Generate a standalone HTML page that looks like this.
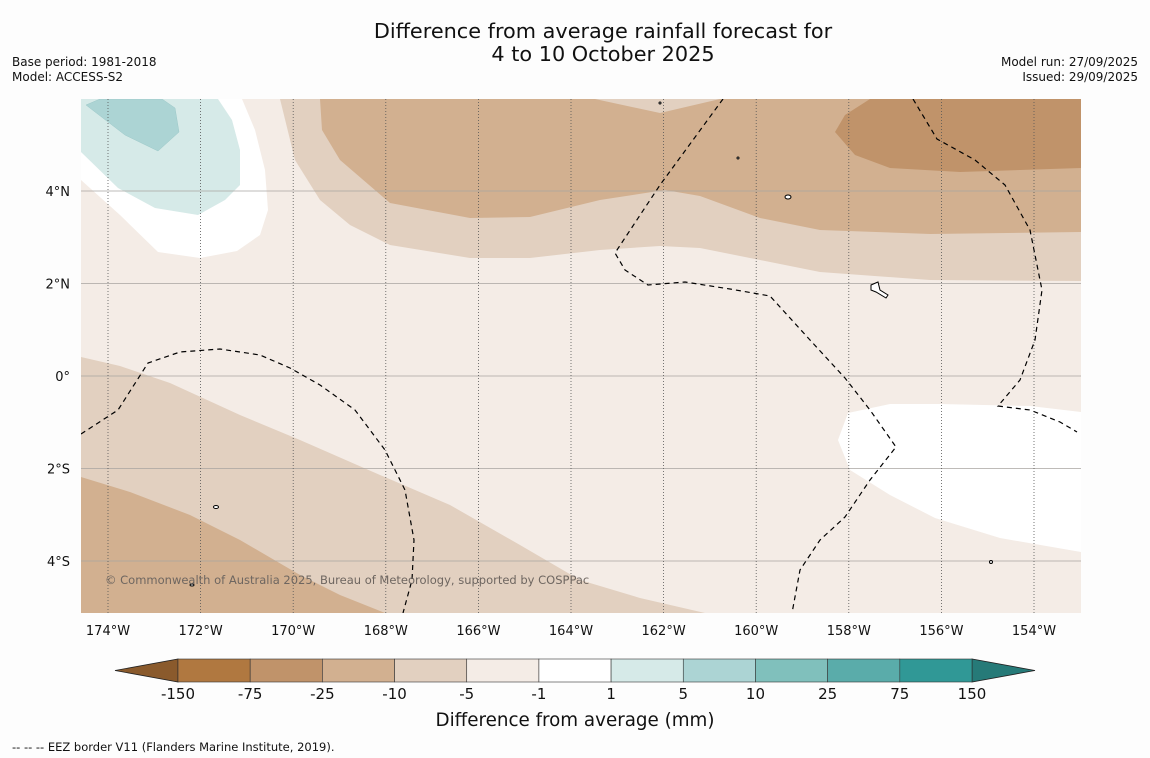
<!DOCTYPE html>
<html><head><meta charset="utf-8">
<style>
body{margin:0;background:#fff;}
svg{display:block;font-family:"DejaVu Sans","Liberation Sans",sans-serif;}
</style></head>
<body>
<svg id="chart" width="1150" height="758" viewBox="0 0 1150 758">
<rect width="1150" height="758" fill="#fdfdfd"/>
<text x="603" y="38" font-size="20.8" text-anchor="middle" fill="#111">Difference from average rainfall forecast for</text>
<text x="603" y="61" font-size="20.8" text-anchor="middle" fill="#111">4 to 10 October 2025</text>
<text x="12" y="66" font-size="12" fill="#111">Base period: 1981-2018</text>
<text x="12" y="81" font-size="12" fill="#111">Model: ACCESS-S2</text>
<text x="1138" y="66" font-size="12" fill="#111" text-anchor="end">Model run: 27/09/2025</text>
<text x="1138" y="81" font-size="12" fill="#111" text-anchor="end">Issued: 29/09/2025</text>

<defs><clipPath id="mapclip"><rect x="81" y="99" width="1000" height="514"/></clipPath></defs>
<g clip-path="url(#mapclip)">
<rect x="81" y="99" width="1000" height="514" fill="#f4ece6"/>
<path fill="#e2d0c0" d="M280,99 L295,160 L320,200 L350,225 L390,245 L470,258 L530,258 L600,250 L660,246 L700,248 L760,260 L820,272 L930,280 L1081,281 L1081,99 Z"/>
<path fill="#d2b090" d="M320,99 L595,99 L660,113 L720,99 L1081,99 L1081,232 L930,234 L820,230 L760,218 L700,196 L665,190 L600,200 L530,217 L470,218 L390,203 L340,160 L322,130 Z"/>
<path fill="#c0936a" d="M870,99 L845,115 L835,132 L855,155 L890,168 L960,172 L1020,170 L1081,168 L1081,99 Z"/>
<path fill="#ffffff" d="M81,150 L81,180 L120,215 L158,252 L200,258 L237,251 L260,235 L268,210 L265,170 L255,130 L242,99 L81,99 Z"/>
<path fill="#d6eae8" d="M81,99 L218,99 L232,120 L240,150 L240,185 L225,200 L198,215 L155,208 L118,188 L81,152 Z"/>
<path fill="#acd4d4" stroke="#9cc8c8" stroke-width="0.5" d="M86,105 L100,99 L162,99 L175,108 L179,132 L158,151 L125,135 Z"/>
<path fill="#e2d0c0" d="M81,357 L120,366 L170,383 L240,415 L300,440 L380,475 L450,505 L520,545 L580,580 L640,598 L705,613 L81,613 Z"/>
<path fill="#d2b090" d="M81,477 L130,492 L190,515 L240,540 L300,575 L340,595 L385,613 L81,613 Z"/>
<path fill="#ffffff" d="M1081,412 L1030,406 L940,404 L890,404 L848,413 L838,440 L850,470 L890,495 L935,518 L1000,538 L1081,552 Z"/>
<g id="grid"></g>
<g fill="none" stroke="#000" stroke-width="1.2" stroke-dasharray="5,4">
<path d="M81,434 L118,410 L148,363 L180,352 L220,349 L260,355 L290,368 L320,385 L355,410 L385,450 L405,490 L414,540 L412,580 L403,613"/>
<path d="M723,99 L660,185 L615,253 L625,270 L648,285 L685,282 L730,289 L770,296 L810,340 L845,378 L870,410 L896,447 L870,480 L845,517 L820,540 L800,570 L792,613"/>
<path d="M913,99 L937,139 L975,160 L1005,185 L1030,230 L1042,290 L1035,340 L1020,380 L998,406 L1030,410 L1060,422 L1077,432"/>
</g>
<g fill="#fff" stroke="#000" stroke-width="1">
<ellipse cx="788" cy="197" rx="3" ry="2"/>
<path d="M871,285 L878,282 L880,290 L888,295 L886,298 L876,292 L871,290Z"/>
<ellipse cx="216" cy="507" rx="2.5" ry="1.5"/>
<ellipse cx="192" cy="585" rx="2" ry="1"/>
<ellipse cx="991" cy="562" rx="1.5" ry="1.5"/>
<ellipse cx="660" cy="103" rx="1" ry="1"/>
<ellipse cx="738" cy="158" rx="1" ry="1"/>
</g>
<text x="105" y="584" font-size="11.5" fill="#6e6660">© Commonwealth of Australia 2025, Bureau of Meteorology, supported by COSPPac</text>
</g>
<g id="axes"></g>
<g id="colorbar"></g>
<text x="575" y="726" font-size="18.3" text-anchor="middle" fill="#111">Difference from average (mm)</text>
<text x="12" y="751" font-size="11.5" fill="#111">--  --  -- EEZ border V11 (Flanders Marine Institute, 2019).</text>
</svg>
<script>
const lonTicks=[-174,-172,-170,-168,-166,-164,-162,-160,-158,-156,-154];
const latTicks=[4,2,0,-2,-4];
const levelLabels=["-150","-75","-25","-10","-5","-1","1","5","10","25","75","150"];
const levelColors=["#b07840","#c0936a","#d2b090","#e2d0c0","#f4ece6","#ffffff","#d6eae8","#acd4d4","#80c0bc","#5aacaa","#309896"];
const ns="http://www.w3.org/2000/svg";
function x(lon){return 108+(lon+174)*46.3;}
function y(lat){return 376-lat*46.25;}
function mk(tag,attrs,parent){const e=document.createElementNS(ns,tag);for(const k in attrs)e.setAttribute(k,attrs[k]);parent.appendChild(e);return e;}
const grid=document.getElementById('grid'),axes=document.getElementById('axes'),cb=document.getElementById('colorbar');
latTicks.forEach(v=>{
 const l=mk('line',{x1:81,x2:1081,y1:y(v),y2:y(v),stroke:'#a8a4a0','stroke-width':0.8},grid);
 
 
 const t=mk('text',{x:70,y:y(v)+5,'font-size':13,'text-anchor':'end',fill:'#111'},axes);
 t.textContent=v===0?'0°':Math.abs(v)+'°'+(v>0?'N':'S');
 
 
});
lonTicks.forEach(v=>{
 const l=mk('line',{x1:x(v),x2:x(v),y1:99,y2:613,stroke:'#555','stroke-width':0.8,'stroke-dasharray':'1,2'},grid);
 
 
 const t=mk('text',{x:x(v),y:635,'font-size':13,'text-anchor':'middle',fill:'#111'},axes);
 t.textContent=Math.abs(v)+'°W';
 
 
});
const cx0=178,cx1=972,cy0=659,cy1=682,w=(cx1-cx0)/levelColors.length;
const lt=mk('polygon',{points:`115,670.5 ${cx0},${cy0} ${cx0},${cy1}`,fill:'#8a5a2c',stroke:'#222','stroke-width':0.8},cb);


const rt=mk('polygon',{points:`1035,670.5 ${cx1},${cy0} ${cx1},${cy1}`,fill:'#267a78',stroke:'#222','stroke-width':0.8},cb);


levelColors.forEach((c,i)=>{
 const r=mk('rect',{x:cx0+i*w,y:cy0,width:w,height:cy1-cy0,fill:c,stroke:'#333','stroke-width':0.6},cb);
 
 
});
levelLabels.forEach((s,i)=>{
 const t=mk('text',{x:cx0+i*w,y:699,'font-size':15,'text-anchor':'middle',fill:'#111'},cb);
 t.textContent=s;
 
 
});
</script>
</body></html>
